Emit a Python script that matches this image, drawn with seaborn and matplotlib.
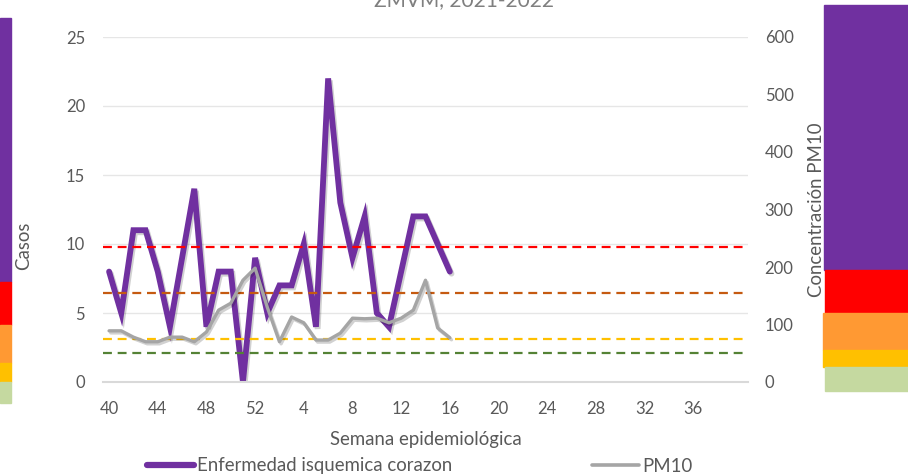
import pandas as pd
import matplotlib.pyplot as plt
import matplotlib.patheffects as pe
from matplotlib.patches import Rectangle
from matplotlib.lines import Line2D
import seaborn as sns

# Semanas epidemiológicas 2021-2022
semanas = list(range(40, 53)) + list(range(1, 40))
casos = [8, 5, 11, 11, 8, 4, 9, 14, 4, 8, 8, 0, 9,
         5, 7, 7, 10, 4, 22, 13, 9, 12, 5, 4, 8, 12, 12, 10, 8]
pm10 = [89, 89, 78, 70, 70, 78, 78, 70, 87, 125, 137, 177, 198,
        130, 70, 113, 103, 73, 73, 85, 111, 110, 111, 103, 111, 125, 177, 94, 77]
limites_pm10 = [235, 155, 75, 50]
colores_limites = ['#FF0000', '#C55A11', '#FFC000', '#548235']
colores_bandas = ['#7030A0', '#FF0000', '#FF9933', '#FFC000', '#C5D9A0']

W, H = 908, 476
gris = '#595959'


def px(x0, y0, x1, y1):
    # rectangulo en pixeles (origen arriba-izquierda) -> coords de figura
    return (x0 / W, 1 - y1 / H), (x1 - x0) / W, (y1 - y0) / H


def draw_chart():
    sns.set_theme(style="white")
    plt.rcParams['font.family'] = ['Lato', 'DejaVu Sans']

    df = pd.DataFrame({'idx': range(len(casos)), 'casos': casos, 'pm10': pm10})

    fig = plt.figure(figsize=(W / 100, H / 100), dpi=100)
    ax = fig.add_axes([103 / W, 1 - 382 / H, 645 / W, 345 / H])
    ax2 = ax.twinx()

    # bandas decorativas de calidad del aire
    izq = [(0, 18, 11, 282), (0, 282, 11, 325), (0, 325, 11, 363), (0, 363, 11, 382), (0, 382, 11, 403)]
    der = [(824, 5, 908, 270), (825, 270, 908, 313), (823, 313, 908, 350), (823, 350, 908, 367), (825, 367, 908, 391)]
    for rects in (izq, der):
        for r, c in zip(rects, colores_bandas):
            xy, w, h = px(*r)
            fig.patches.append(Rectangle(xy, w, h, transform=fig.transFigure, color=c, zorder=0))

    sombra = [pe.SimpleLineShadow(offset=(1.2, -1.5), alpha=0.18, shadow_color='black'), pe.Normal()]

    sns.lineplot(data=df, x='idx', y='casos', ax=ax, color='#7030A0', linewidth=4.2,
                 solid_capstyle='round', solid_joinstyle='miter', path_effects=sombra)

    for y, c in zip(limites_pm10, colores_limites):
        ax2.axhline(y, color=c, linewidth=1.6, linestyle=(0, (4, 2.6)), zorder=2)
    sns.lineplot(data=df, x='idx', y='pm10', ax=ax2, color='#A5A5A5', linewidth=2.4,
                 solid_capstyle='round', path_effects=sombra, zorder=3)

    ax.set_xlim(-0.5, len(semanas) + 0.5)
    ax.set_ylim(0, 25)
    ax2.set_ylim(0, 600)
    ax.set_yticks(range(0, 26, 5))
    ax2.set_yticks(range(0, 601, 100))
    ticks = list(range(0, len(semanas), 4))
    ax.set_xticks(ticks)
    ax.set_xticklabels([str(semanas[i]) for i in ticks])

    ax.yaxis.grid(True, color='#E6E6E6', linewidth=1)
    ax.set_axisbelow(True)
    for a in (ax, ax2):
        for s in a.spines.values():
            s.set_visible(False)
        a.tick_params(length=0, labelsize=12, labelcolor=gris)
    ax.spines['bottom'].set_visible(True)
    ax.spines['bottom'].set_color('#D9D9D9')
    ax.spines['bottom'].set_linewidth(1.5)
    ax.tick_params(axis='y', pad=13)
    ax.tick_params(axis='x', pad=14)
    ax2.tick_params(axis='y', pad=12)

    ax.set_ylabel('Casos', fontsize=13.4, color=gris)
    ax.yaxis.set_label_coords(-71 / 645, (382 - 246) / 345)
    ax2.set_ylabel('Concentración PM10', fontsize=13.4, color=gris)
    ax2.yaxis.set_label_coords((808 - 103) / 645, 0.5)
    ax.set_xlabel('Semana epidemiológica', fontsize=13.4, color=gris)
    ax.xaxis.set_label_coords((426 - 103) / 645, -(431 - 382) / 345)

    fig.text(464 / W, 1 - 6 / H, 'ZMVM, 2021-2022', ha='center', va='baseline',
             fontsize=15, color='#7F7F7F')

    handles = [Line2D([], [], color='#7030A0', linewidth=4.5, solid_capstyle='round'),
               Line2D([], [], color='#A5A5A5', linewidth=2.6, solid_capstyle='round')]
    fig.legend(handles, ['Enfermedad isquemica corazon', 'PM10'], ncol=2, frameon=False,
               loc='center', bbox_to_anchor=(420 / W, 1 - 466 / H), fontsize=13.4,
               labelcolor=gris, handlelength=2.5, handletextpad=0.2, columnspacing=7.5)

    fig.savefig('out.png', dpi=100)


if __name__ == "__main__":
    draw_chart()
